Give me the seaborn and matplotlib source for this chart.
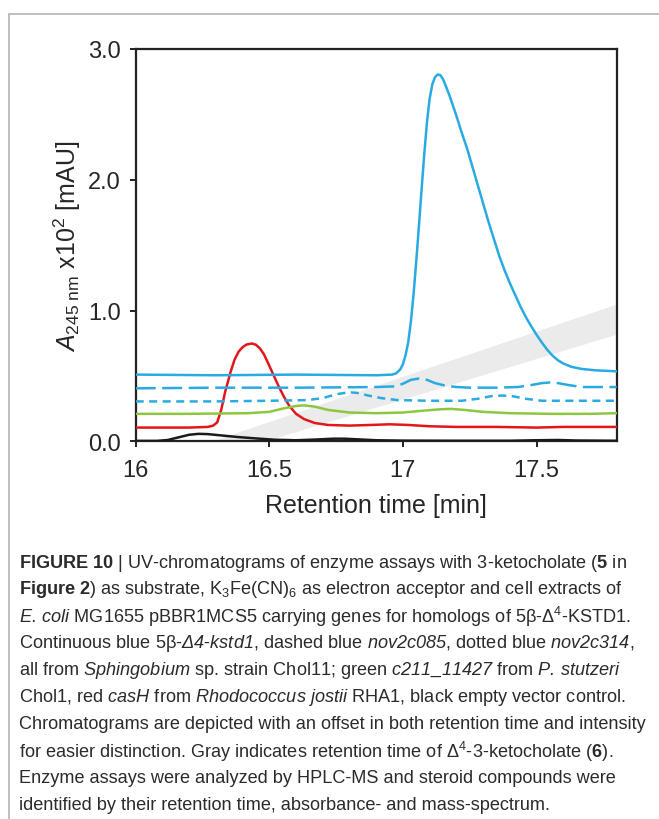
import pandas as pd
import matplotlib
matplotlib.use("Agg")
import matplotlib.pyplot as plt
from matplotlib.lines import Line2D
import seaborn as sns

# Retention time [min] / absorbance (x10^2 mAU)
blue_t = [16.0, 16.3, 16.6, 16.9, 16.96, 16.975, 16.99, 17.0, 17.01, 17.02, 17.03, 17.04, 17.05,
          17.06, 17.07, 17.08, 17.09, 17.1, 17.11, 17.12, 17.13, 17.14, 17.15, 17.16, 17.175,
          17.19, 17.2, 17.22, 17.24, 17.26, 17.28, 17.3, 17.32, 17.34, 17.36, 17.38, 17.4,
          17.42, 17.44, 17.46, 17.48, 17.5, 17.52, 17.54, 17.56, 17.58, 17.6, 17.63, 17.67,
          17.72, 17.8]
blue_a = [0.51, 0.505, 0.51, 0.505, 0.51, 0.52, 0.55, 0.59, 0.66, 0.76, 0.92, 1.13, 1.38,
          1.65, 1.93, 2.2, 2.44, 2.62, 2.73, 2.785, 2.805, 2.80, 2.77, 2.72, 2.64,
          2.55, 2.49, 2.36, 2.24, 2.1, 1.96, 1.82, 1.68, 1.55, 1.42, 1.31, 1.21,
          1.12, 1.03, 0.95, 0.88, 0.815, 0.755, 0.70, 0.655, 0.62, 0.595, 0.57, 0.553,
          0.543, 0.535]

dashed_t = [16.0, 16.3, 16.6, 16.9, 16.97, 17.0, 17.03, 17.06, 17.09, 17.12, 17.16, 17.2, 17.25,
            17.35, 17.43, 17.48, 17.52, 17.55, 17.58, 17.62, 17.67, 17.8]
dashed_a = [0.405, 0.41, 0.41, 0.415, 0.42, 0.44, 0.47, 0.48, 0.47, 0.445, 0.425, 0.415, 0.41,
            0.41, 0.415, 0.43, 0.445, 0.45, 0.445, 0.43, 0.415, 0.415]

dotted_t = [16.0, 16.3, 16.5, 16.64, 16.7, 16.75, 16.8, 16.83, 16.87, 16.92, 16.98, 17.1, 17.22,
            17.28, 17.33, 17.37, 17.41, 17.46, 17.52, 17.65, 17.8]
dotted_a = [0.305, 0.305, 0.31, 0.315, 0.33, 0.36, 0.375, 0.37, 0.35, 0.33, 0.315, 0.31, 0.31,
            0.325, 0.345, 0.35, 0.345, 0.325, 0.31, 0.31, 0.31]

green_t = [16.0, 16.2, 16.42, 16.5, 16.55, 16.6, 16.63, 16.67, 16.72, 16.8, 16.9, 17.0, 17.08,
           17.14, 17.18, 17.23, 17.3, 17.4, 17.55, 17.7, 17.8]
green_a = [0.21, 0.21, 0.215, 0.225, 0.25, 0.27, 0.275, 0.265, 0.24, 0.22, 0.215, 0.22, 0.235,
           0.245, 0.248, 0.24, 0.225, 0.215, 0.21, 0.21, 0.215]

red_t = [16.0, 16.2, 16.27, 16.29, 16.305, 16.32, 16.335, 16.355, 16.37, 16.385, 16.4, 16.415,
         16.435, 16.45, 16.465, 16.48, 16.495, 16.515, 16.535, 16.555, 16.575, 16.6, 16.63,
         16.67, 16.72, 16.8, 16.88, 16.95, 17.02, 17.1, 17.2, 17.35, 17.5, 17.6, 17.8]
red_a = [0.105, 0.105, 0.11, 0.12, 0.145, 0.24, 0.38, 0.53, 0.625, 0.685, 0.72, 0.74,
         0.748, 0.738, 0.71, 0.665, 0.6, 0.51, 0.42, 0.34, 0.27, 0.21, 0.17,
         0.14, 0.125, 0.12, 0.125, 0.13, 0.125, 0.115, 0.11, 0.11, 0.105, 0.11, 0.11]

black_t = [16.0, 16.08, 16.12, 16.16, 16.2, 16.235, 16.27, 16.32, 16.38, 16.45, 16.52, 16.6, 16.68,
           16.74, 16.78, 16.83, 16.9, 17.0, 17.2, 17.4, 17.5, 17.58, 17.65, 17.8]
black_a = [0.003, 0.003, 0.01, 0.03, 0.05, 0.057, 0.055, 0.045, 0.033, 0.022, 0.012, 0.008, 0.014,
           0.02, 0.02, 0.015, 0.008, 0.005, 0.004, 0.004, 0.008, 0.01, 0.006, 0.004]

# gray band: retention time of the product, shifted with each trace
band_t = [16.28, 16.48, 17.8]
band_lo = [0.0, 0.0, 0.82]
band_hi = [0.0, 0.138, 1.05]

x_ticks = [16, 16.5, 17, 17.5]
x_labels = ["16", "16.5", "17", "17.5"]
y_ticks = [0, 1, 2, 3]
y_labels = ["0.0", "1.0", "2.0", "3.0"]

# \mathsf is mapped to the italic face so digits stay italic too
caption = [
    r"$\mathbf{FIGURE\ 10}$ | UV-chromatograms of enzyme assays with 3-ketocholate ($\mathbf{5}$ in",
    r"$\mathbf{Figure\ 2}$) as substrate, K$_3$Fe(CN)$_6$ as electron acceptor and cell extracts of",
    r"$\mathsf{E.\,coli}$ MG1655 pBBR1MCS5 carrying genes for homologs of 5β-Δ$^4$-KSTD1.",
    r"Continuous blue 5β-$\mathsf{Δ4}$-$\mathsf{kstd1}$, dashed blue $\mathsf{nov2c085}$, dotted blue $\mathsf{nov2c314}$,",
    r"all from $\mathsf{Sphingobium}$ sp. strain Chol11; green $\mathsf{c211\_11427}$ from $\mathsf{P.\,stutzeri}$",
    r"Chol1, red $\mathsf{casH}$ from $\mathsf{Rhodococcus}$ $\mathsf{jostii}$ RHA1, black empty vector control.",
    "Chromatograms are depicted with an offset in both retention time and intensity",
    r"for easier distinction. Gray indicates retention time of Δ$^4$-3-ketocholate ($\mathbf{6}$).",
    "Enzyme assays were analyzed by HPLC-MS and steroid compounds were",
    "identified by their retention time, absorbance- and mass-spectrum.",
]

sns.set_style("ticks")
plt.rcParams["font.family"] = ["Liberation Sans", "DejaVu Sans"]
plt.rcParams["mathtext.fontset"] = "custom"
plt.rcParams["mathtext.rm"] = "Liberation Sans"
plt.rcParams["mathtext.it"] = "Liberation Sans:italic"
plt.rcParams["mathtext.sf"] = "Liberation Sans:italic"
plt.rcParams["mathtext.bf"] = "Liberation Sans:bold"

W, H = 659, 820
fig = plt.figure(figsize=(W / 100, H / 100), dpi=100)
ax = fig.add_axes([135.7 / W, 1 - 442.3 / H, 481 / W, 392.3 / H])

ax.fill_between(band_t, band_lo, band_hi, color="#ebebeb", lw=0, zorder=1)

blue = "#29abe2"
traces = [
    (black_t, black_a, "#1a1a1a", "-"),
    (red_t, red_a, "#e3161b", "-"),
    (green_t, green_a, "#8dc63f", "-"),
    (dotted_t, dotted_a, blue, (0, (3.2, 2.2))),
    (dashed_t, dashed_a, blue, (0, (8, 2.6))),
    (blue_t, blue_a, blue, "-"),
]
for t, a, col, ls in traces:
    df = pd.DataFrame({"time": t, "abs": a})
    sns.lineplot(data=df, x="time", y="abs", ax=ax, color=col, linewidth=1.8,
                 linestyle=ls, estimator=None, errorbar=None, zorder=3)

ax.set_xlim(16, 17.8)
ax.set_ylim(0, 3.0)
ax.set_xticks(x_ticks)
ax.set_xticklabels(x_labels)
ax.set_yticks(y_ticks)
ax.set_yticklabels(y_labels)
ax.tick_params(direction="out", length=4.5, width=1.4, labelsize=17, pad=6, color="#222222")
ax.tick_params(axis="x", pad=8)
for sp in ax.spines.values():
    sp.set_visible(True)
    sp.set_linewidth(1.6)
    sp.set_color("#222222")

ax.set_xlabel("Retention time [min]", fontsize=18)
ax.xaxis.set_label_coords(0.5, -0.132)
ax.set_ylabel(r"$\mathit{A}_{\mathrm{245\ nm}}$ x10$^2$ [mAU]", fontsize=18)
ax.yaxis.set_label_coords(-0.11, 0.5)

# page frame
fc = "#b5b5b5"
fig.add_artist(Line2D([9 / W, 9 / W], [0, 1 - 15 / H], color=fc, lw=1.2))
fig.add_artist(Line2D([9 / W, 1], [1 - 15 / H, 1 - 15 / H], color=fc, lw=1.2))

for i, line in enumerate(caption):
    fig.text(19 / W, 1 - (563 + 27 * i) / H, line, ha="left", va="center",
             fontsize=13.1, color="#2b2b2b")

fig.savefig("out.png", dpi=100)
